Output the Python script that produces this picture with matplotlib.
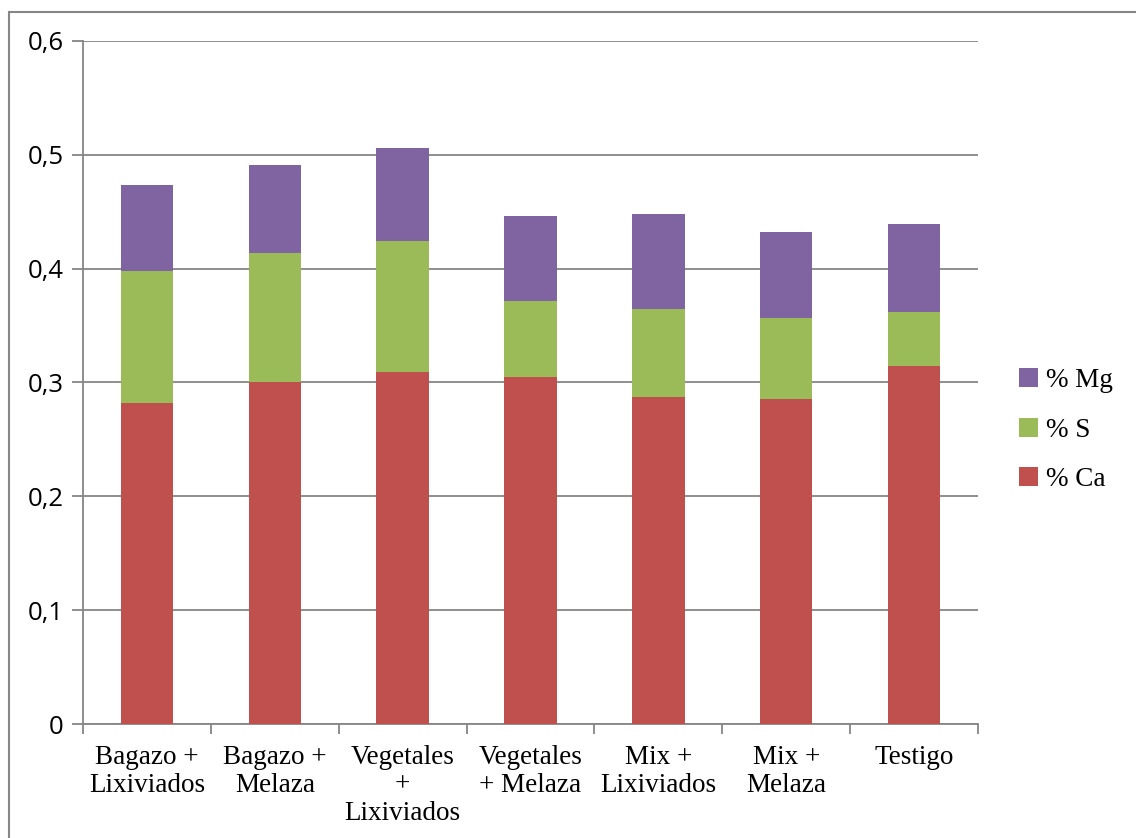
import matplotlib
matplotlib.use('Agg')
import matplotlib.pyplot as plt
import numpy as np
from matplotlib.patches import Rectangle

# categorias y valores
categorias = ['Bagazo +\nLixiviados', 'Bagazo +\nMelaza', 'Vegetales\n+\nLixiviados',
              'Vegetales\n+ Melaza', 'Mix +\nLixiviados', 'Mix +\nMelaza', 'Testigo']
ca = [0.282, 0.3005, 0.309, 0.305, 0.287, 0.2855, 0.3145]
s = [0.116, 0.1135, 0.115, 0.0666, 0.0776, 0.0712, 0.0475]
mg = [0.0755, 0.077, 0.082, 0.0744, 0.0834, 0.0753, 0.077]
yticks = [0, 0.1, 0.2, 0.3, 0.4, 0.5, 0.6]
ylabels = ['0', '0,1', '0,2', '0,3', '0,4', '0,5', '0,6']

c_ca = '#C0504D'
c_s = '#9BBB59'
c_mg = '#8064A2'
gris = '#868686'

fig = plt.figure(figsize=(11.36, 8.38), dpi=100)
ax = fig.add_axes([83/1136, 1-724/838, (978-83)/1136, (724-41)/838])

x = np.arange(len(categorias))
w = 0.41
b1 = ax.bar(x, ca, w, color=c_ca, label='% Ca', zorder=3)
b2 = ax.bar(x, s, w, bottom=ca, color=c_s, label='% S', zorder=3)
base = np.array(ca) + np.array(s)
b3 = ax.bar(x, mg, w, bottom=base, color=c_mg, label='% Mg', zorder=3)

ax.set_xlim(-0.5, len(categorias)-0.5)
ax.set_ylim(0, 0.6)
ax.set_yticks(yticks)
ax.set_yticklabels(ylabels, fontsize=18.5, family='Open Sans')
ax.yaxis.grid(True, color=gris, linewidth=1.3, zorder=0)
ax.set_xticks(x)
ax.set_xticklabels(categorias, fontsize=19.5, family='Liberation Serif', linespacing=1.15)
ax.set_xticks(np.arange(-0.5, len(categorias)), minor=True)
ax.tick_params(axis='x', which='major', length=0, pad=15)
ax.tick_params(axis='x', which='minor', length=7, color=gris, width=1.3)
ax.tick_params(axis='y', length=8, color=gris, width=1.3, pad=6)
for sp in ['top', 'right']:
    ax.spines[sp].set_visible(False)
for sp in ['left', 'bottom']:
    ax.spines[sp].set_color(gris)
    ax.spines[sp].set_linewidth(1.3)

leg = ax.legend(handles=[b3, b2, b1], loc='center left', bbox_to_anchor=(1.046, 0.43),
                frameon=False, prop={'family': 'Liberation Serif', 'size': 19.5},
                handlelength=0.7, handleheight=0.7, handletextpad=0.3, labelspacing=0.9,
                borderaxespad=0, borderpad=0)

fig.patches.append(Rectangle((9/1136, -0.1), 1.2, 1 - 12/838 + 0.1, transform=fig.transFigure,
                             fill=False, edgecolor=gris, linewidth=1.5))

fig.savefig('out.png', dpi=100)
